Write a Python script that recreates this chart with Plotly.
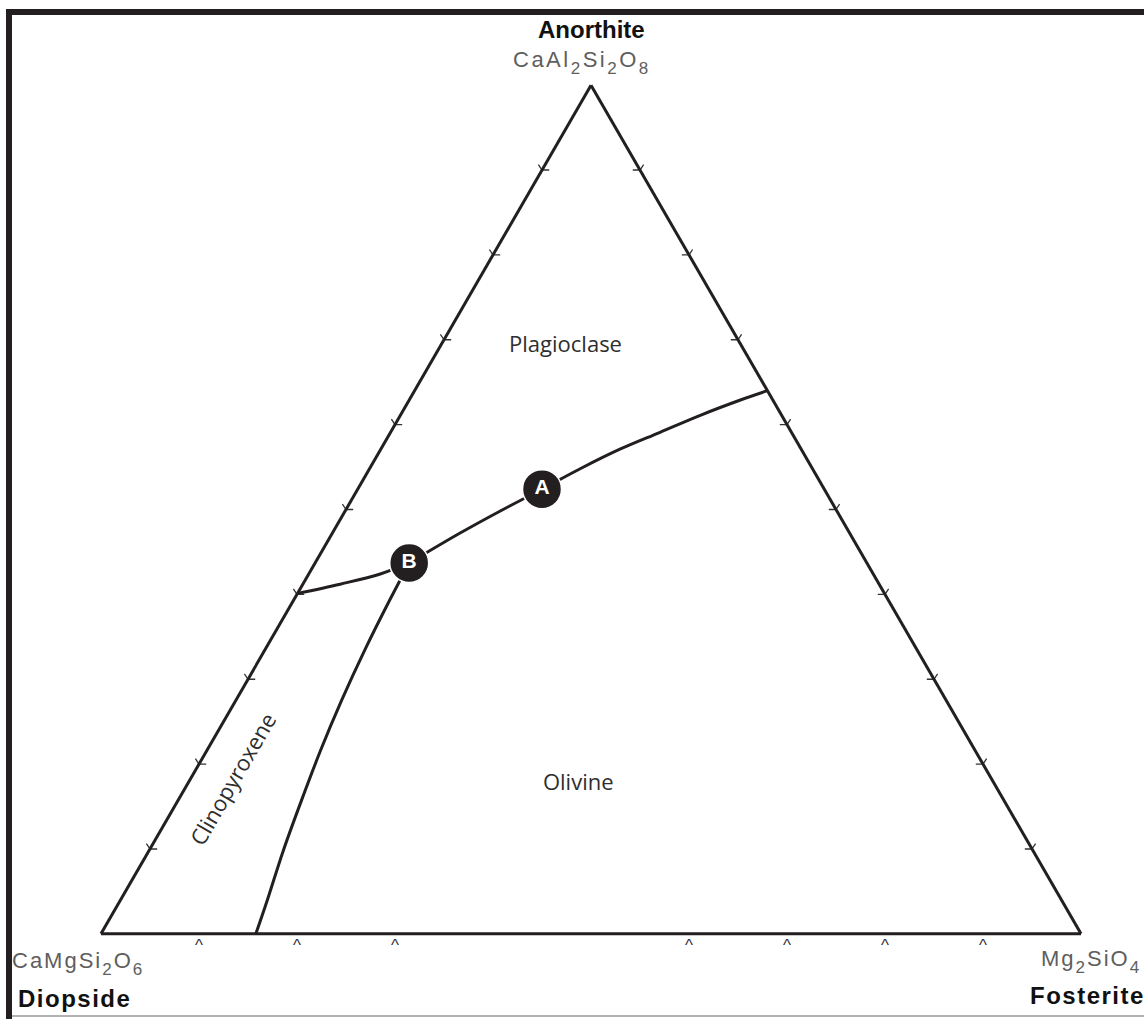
import plotly.graph_objects as go

# ---------------------------------------------------------------------------
# Di–An–Fo liquidus diagram (CaMgSi2O6 – CaAl2Si2O8 – Mg2SiO4)
# Compositions are fractions: a = Anorthite, b = Diopside, c = Fosterite
# ---------------------------------------------------------------------------

# Plagioclase–olivine cotectic: from the An–Fo join down to point B
PL_OL_A = [0.640, 0.629, 0.611, 0.591, 0.571, 0.548, 0.524, 0.498, 0.472, 0.437]
PL_OL_C = [0.360, 0.338, 0.306, 0.275, 0.244, 0.215, 0.188, 0.158, 0.130, 0.096]

# Plagioclase–clinopyroxene cotectic: from the Di–An join to point B
PL_CPX_A = [0.401, 0.412, 0.424, 0.437]
PL_CPX_C = [0.000, 0.038, 0.073, 0.096]

# Clinopyroxene–olivine cotectic: from point B down to the Di–Fo join
CPX_OL_A = [0.437, 0.393, 0.334, 0.275, 0.216, 0.157, 0.098, 0.039, 0.000]
CPX_OL_C = [0.096, 0.098, 0.102, 0.108, 0.116, 0.126, 0.137, 0.150, 0.158]

# Labelled liquid compositions
POINT_NAMES = ["A", "B"]
POINT_A = [0.524, 0.437]
POINT_C = [0.188, 0.096]

# Phase-field labels
FIELD_NAMES = ["Plagioclase", "Olivine"]
FIELD_A = [0.692, 0.176]
FIELD_C = [0.128, 0.399]
CPX_LABEL = "Clinopyroxene"
CPX_LABEL_A = 0.183
CPX_LABEL_C = 0.042

# Temperature-direction marks along the three binary joins
DI_AN_TICKS_A = [0.1, 0.2, 0.3, 0.4, 0.5, 0.6, 0.7, 0.8, 0.9]
AN_FO_TICKS_A = [0.1, 0.2, 0.3, 0.4, 0.5, 0.6, 0.7, 0.8, 0.9]
DI_FO_TICKS_C = [0.1, 0.2, 0.3, 0.6, 0.7, 0.8, 0.9]

# End-member names and formulas
TOP_NAME, TOP_FORMULA = "Anorthite", ["CaAl", "2", "Si", "2", "O", "8"]
LEFT_NAME, LEFT_FORMULA = "Diopside", ["CaMgSi", "2", "O", "6"]
RIGHT_NAME, RIGHT_FORMULA = "Fosterite", ["Mg", "2", "SiO", "4"]

# ---------------------------------------------------------------------------
FIG_W, FIG_H = 1144, 1019
M_L, M_R, M_T, M_B = 101, 63, 85, 85
PLOT_W = FIG_W - M_L - M_R
PLOT_H = FIG_H - M_T - M_B

INK = "#231f20"
GREY_TXT = "#5e5e5e"
SANS = "Liberation Sans, Arial, sans-serif"
HUMANIST = "Open Sans, Noto Sans, sans-serif"


def px_x(x):
    return (x - M_L) / PLOT_W


def px_y(y):
    return (FIG_H - M_B - y) / PLOT_H


def rest(a, c):
    return [1 - ai - ci for ai, ci in zip(a, c)]


def formula_html(parts, spacing):
    # alternate main text / subscript pieces; subscripts kept fairly large
    out = []
    for i, p in enumerate(parts):
        if i % 2 == 0:
            out.append(f'<span style="letter-spacing:{spacing}px">{p}</span>')
        else:
            out.append(
                f'<span style="font-size:17px;baseline-shift:-7px;'
                f'letter-spacing:{spacing}px">{p}</span>'
            )
    return "".join(out)


fig = go.Figure()

line_style = dict(color=INK, width=3, shape="spline", smoothing=1.0)
for a_vals, c_vals in [(PL_OL_A, PL_OL_C), (PL_CPX_A, PL_CPX_C), (CPX_OL_A, CPX_OL_C)]:
    fig.add_trace(go.Scatterternary(
        a=a_vals, b=rest(a_vals, c_vals), c=c_vals, mode="lines",
        line=line_style, hoverinfo="skip", showlegend=False,
    ))

tick_marker = dict(size=9, color="#333333", line=dict(color="#333333", width=1.3))
# Di–An join (left edge)
zeros_l = [0.0] * len(DI_AN_TICKS_A)
fig.add_trace(go.Scatterternary(
    a=DI_AN_TICKS_A, c=zeros_l, b=rest(DI_AN_TICKS_A, zeros_l),
    mode="markers", marker=dict(symbol="y-right", **tick_marker),
    hoverinfo="skip", showlegend=False, cliponaxis=False,
))
# An–Fo join (right edge)
fig.add_trace(go.Scatterternary(
    a=AN_FO_TICKS_A, b=[0.0] * len(AN_FO_TICKS_A),
    c=[1 - v for v in AN_FO_TICKS_A],
    mode="markers", marker=dict(symbol="y-left", **tick_marker),
    hoverinfo="skip", showlegend=False, cliponaxis=False,
))
# Di–Fo join (base): carets hanging just beneath the edge
zeros_b = [0.0] * len(DI_FO_TICKS_C)
caret = '<span style="baseline-shift:-4px">^</span>'
fig.add_trace(go.Scatterternary(
    a=zeros_b, c=DI_FO_TICKS_C, b=rest(zeros_b, DI_FO_TICKS_C),
    mode="text", text=[caret] * len(DI_FO_TICKS_C), textposition="bottom center",
    textfont=dict(family=SANS, size=17, color="#333333"),
    hoverinfo="skip", showlegend=False, cliponaxis=False,
))

# Field names
fig.add_trace(go.Scatterternary(
    a=FIELD_A, c=FIELD_C, b=rest(FIELD_A, FIELD_C), mode="text",
    text=FIELD_NAMES, textposition="middle center",
    textfont=dict(family=HUMANIST, size=22, color="#2e2e2e"),
    hoverinfo="skip", showlegend=False,
))

# Points A and B
fig.add_trace(go.Scatterternary(
    a=POINT_A, c=POINT_C, b=rest(POINT_A, POINT_C), mode="markers+text",
    text=POINT_NAMES, textposition="middle center",
    marker=dict(size=39, color=INK, line=dict(color="white", width=1.5)),
    textfont=dict(family=SANS, size=21, color="white", weight="bold"),
    hoverinfo="skip", showlegend=False, cliponaxis=False,
))

axis_style = dict(
    showgrid=False, showline=True, linecolor=INK, linewidth=3,
    ticks="", showticklabels=False, title=dict(text=""),
)

name_font = dict(family=SANS, size=24, color="#111111", weight="bold")
formula_font = dict(family=SANS, size=22, color=GREY_TXT)


def spaced(text, px):
    return f'<span style="letter-spacing:{px}px">{text}</span>'


annotations = [
    dict(text=TOP_NAME, x=px_x(591), y=px_y(30), xanchor="center", yanchor="middle",
         font=name_font),
    dict(text=formula_html(TOP_FORMULA, 2.5), x=px_x(582), y=px_y(62), xanchor="center",
         yanchor="middle", font=formula_font),
    dict(text=formula_html(LEFT_FORMULA, 2), x=px_x(10), y=px_y(963), xanchor="left",
         yanchor="middle", font=formula_font),
    dict(text=spaced(LEFT_NAME, 1.5), x=px_x(16), y=px_y(998), xanchor="left",
         yanchor="middle", font=name_font),
    dict(text=formula_html(RIGHT_FORMULA, 2), x=px_x(1143), y=px_y(961), xanchor="right",
         yanchor="middle", font=formula_font),
    dict(text=spaced(RIGHT_NAME, 1.5), x=px_x(1147), y=px_y(995), xanchor="right",
         yanchor="middle", font=name_font),
    dict(text=CPX_LABEL, x=CPX_LABEL_C + CPX_LABEL_A / 2, y=CPX_LABEL_A,
         textangle=-60, xanchor="center", yanchor="middle",
         font=dict(family=HUMANIST, size=22, color="#2e2e2e")),
]
for ann in annotations:
    ann.update(xref="paper", yref="paper", showarrow=False)

# Page frame
shapes = [
    dict(type="rect", x0=px_x(6), x1=px_x(12), y0=px_y(9), y1=px_y(1019),
         fillcolor=INK, line=dict(width=0)),
    dict(type="rect", x0=px_x(6), x1=px_x(1144), y0=px_y(9), y1=px_y(15),
         fillcolor=INK, line=dict(width=0)),
    dict(type="line", x0=px_x(12), x1=px_x(1144), y0=px_y(1016), y1=px_y(1016),
         line=dict(color="#9a9a9a", width=1.5)),
]
for s in shapes:
    s.update(xref="paper", yref="paper", layer="above")

fig.update_layout(
    width=FIG_W, height=FIG_H,
    margin=dict(l=M_L, r=M_R, t=M_T, b=M_B, pad=0),
    paper_bgcolor="white",
    ternary=dict(
        sum=1, bgcolor="white", domain=dict(x=[0, 1], y=[0, 1]),
        aaxis=axis_style, baxis=axis_style, caxis=axis_style,
    ),
    annotations=annotations,
    shapes=shapes,
    showlegend=False,
)

fig.write_html("out.html", config={"displayModeBar": False})
